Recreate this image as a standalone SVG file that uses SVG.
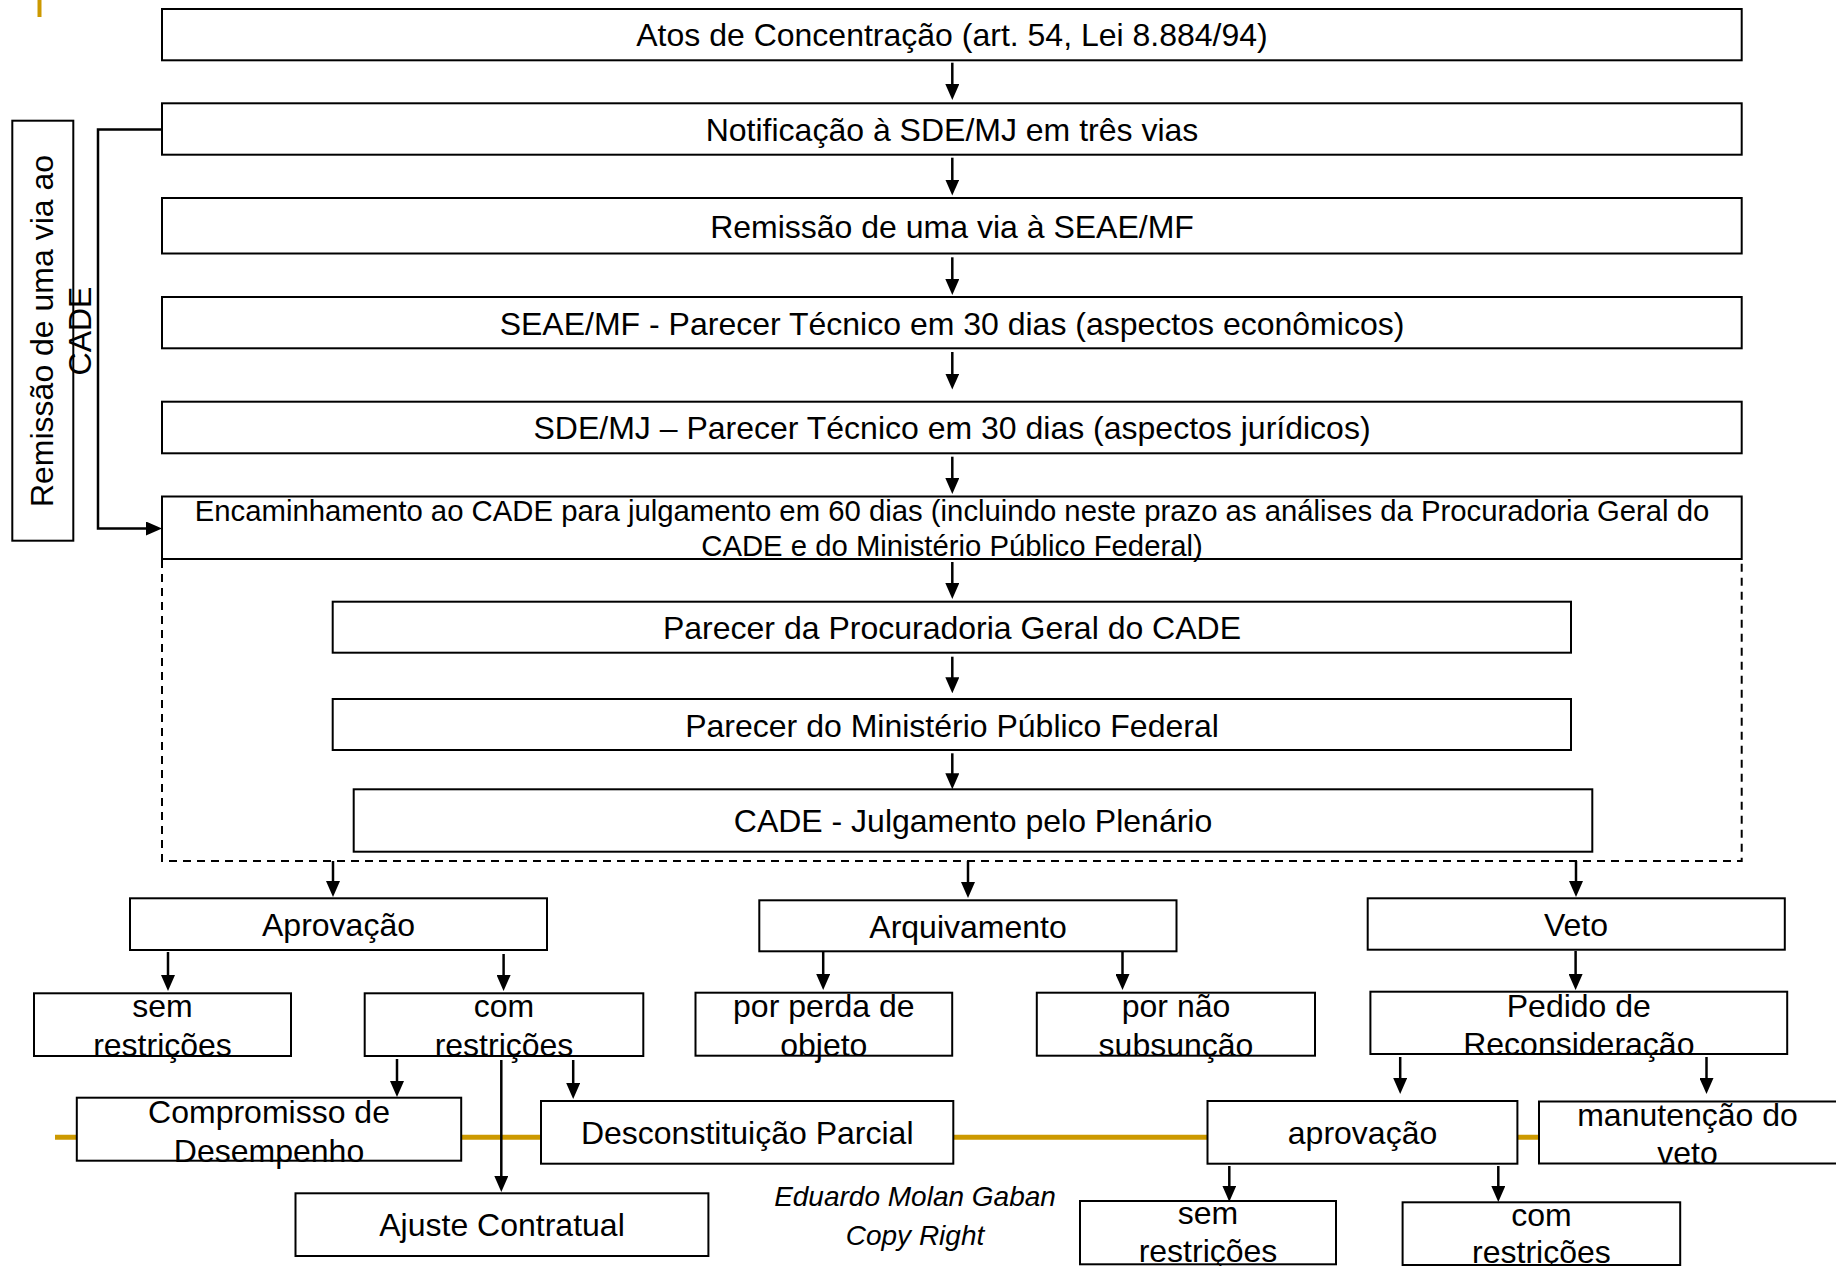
<svg xmlns="http://www.w3.org/2000/svg" width="1836" height="1266" viewBox="0 0 1836 1266">
<style>
.box{fill:#fff;stroke:#000;stroke-width:2}
.t{font-family:"Liberation Sans",Arial,Helvetica,sans-serif;font-size:32px;text-anchor:middle;fill:#000}
.s29{font-size:29.3px}
.it{font-style:italic;font-size:28px}
.c{stroke:#000;stroke-width:2.5;fill:none;marker-end:url(#arr)}
.dash{stroke:#000;stroke-width:2;stroke-dasharray:8 6;fill:none}
.gold{stroke:#CC9900;stroke-width:5;fill:none}
</style>
<defs>
<marker id="arr" viewBox="0 0 16 14" refX="6" refY="7" markerWidth="16" markerHeight="14" markerUnits="userSpaceOnUse" orient="auto">
<path d="M0,0 L16,7 L0,14 z" fill="#000"/>
</marker>
</defs>
<rect width="1836" height="1266" fill="#fff"/>
<g id="decor">
<line class="gold" x1="39.5" y1="0" x2="39.5" y2="17" style="stroke-width:4"/>
<line class="gold" x1="55" y1="1137.3" x2="1836" y2="1137.3"/>
</g>
<g id="group-cade">
<path class="dash" d="M162,560 V861 H1741.7 V560"/>
</g>
<g id="n-atos"><rect class="box" x="162" y="9" width="1579.7" height="51.3"/><text class="t" x="952" y="46">Atos de Concentração (art. 54, Lei 8.884/94)</text></g>
<g id="n-notif"><rect class="box" x="162" y="103.3" width="1579.7" height="51.4"/><text class="t" x="952" y="140.5">Notificação à SDE/MJ em três vias</text></g>
<g id="n-remissao"><rect class="box" x="162" y="198" width="1579.7" height="55.5"/><text class="t" x="952" y="237.5">Remissão de uma via à SEAE/MF</text></g>
<g id="n-seae"><rect class="box" x="162" y="297" width="1579.7" height="51.3"/><text class="t" x="952" y="334.5">SEAE/MF - Parecer Técnico em 30 dias (aspectos econômicos)</text></g>
<g id="n-sde"><rect class="box" x="162" y="401.7" width="1579.7" height="51.6"/><text class="t" x="952" y="439">SDE/MJ – Parecer Técnico em 30 dias (aspectos jurídicos)</text></g>
<g id="n-encaminhamento"><rect class="box" x="162" y="496.5" width="1579.7" height="62.5"/><text class="t s29" x="952" y="520.5">Encaminhamento ao CADE para julgamento em 60 dias (incluindo neste prazo as análises da Procuradoria Geral do</text><text class="t s29" x="952" y="556">CADE e do Ministério Público Federal)</text></g>
<g id="n-procuradoria"><rect class="box" x="332.7" y="601.7" width="1238.3" height="51"/><text class="t" x="952" y="639">Parecer da Procuradoria Geral do CADE</text></g>
<g id="n-mpf"><rect class="box" x="332.7" y="699" width="1238.3" height="51"/><text class="t" x="952" y="737">Parecer do Ministério Público Federal</text></g>
<g id="n-julgamento"><rect class="box" x="353.7" y="789.3" width="1238.6" height="62.4"/><text class="t" x="973" y="832">CADE - Julgamento pelo Plenário</text></g>
<g id="n-remissao-cade"><rect class="box" x="12.3" y="120.7" width="61" height="420"/><text class="t" transform="translate(53.3,331) rotate(-90)">Remissão de uma via ao</text><text class="t" transform="translate(91.3,331) rotate(-90)">CADE</text></g>
<g id="n-aprovacao"><rect class="box" x="130" y="898.3" width="417" height="51.7"/><text class="t" x="338.5" y="936">Aprovação</text></g>
<g id="n-arquivamento"><rect class="box" x="759.3" y="900.3" width="417.2" height="51"/><text class="t" x="968" y="937.5">Arquivamento</text></g>
<g id="n-veto"><rect class="box" x="1367.7" y="898.3" width="417.1" height="51.4"/><text class="t" x="1576" y="936">Veto</text></g>
<g id="n-sem1"><rect class="box" x="34" y="993.3" width="257" height="62.7"/><text class="t" x="162.5" y="1017">sem</text><text class="t" x="162.5" y="1056">restrições</text></g>
<g id="n-com1"><rect class="box" x="364.7" y="993.3" width="278.6" height="62.7"/><text class="t" x="504" y="1017">com</text><text class="t" x="504" y="1056">restrições</text></g>
<g id="n-perda"><rect class="box" x="695.5" y="992.7" width="256.7" height="63"/><text class="t" x="823.8" y="1017">por perda de</text><text class="t" x="823.8" y="1055.5">objeto</text></g>
<g id="n-nao"><rect class="box" x="1036.8" y="992.7" width="278.2" height="63"/><text class="t" x="1176" y="1017">por não</text><text class="t" x="1176" y="1055.5">subsunção</text></g>
<g id="n-pedido"><rect class="box" x="1370.4" y="991.7" width="416.8" height="62.3"/><text class="t" x="1578.8" y="1016.5">Pedido de</text><text class="t" x="1578.8" y="1054.5">Reconsideração</text></g>
<g id="n-compromisso"><rect class="box" x="76.8" y="1097.7" width="384.4" height="63"/><text class="t" x="269" y="1122.5">Compromisso de</text><text class="t" x="269" y="1161.5">Desempenho</text></g>
<g id="n-desconstituicao"><rect class="box" x="541" y="1101" width="412.3" height="62.7"/><text class="t" x="747.2" y="1144">Desconstituição Parcial</text></g>
<g id="n-aprovacao2"><rect class="box" x="1207.5" y="1101" width="309.9" height="62.7"/><text class="t" x="1362.5" y="1144">aprovação</text></g>
<g id="n-manutencao"><rect class="box" x="1539" y="1101.5" width="300" height="62"/><text class="t" x="1687.5" y="1126">manutenção do</text><text class="t" x="1687.5" y="1164">veto</text></g>
<g id="n-ajuste"><rect class="box" x="295.5" y="1193.3" width="412.9" height="62.7"/><text class="t" x="502" y="1236">Ajuste Contratual</text></g>
<g id="n-sem2"><rect class="box" x="1080" y="1201" width="256" height="63.3"/><text class="t" x="1208" y="1224">sem</text><text class="t" x="1208" y="1262">restrições</text></g>
<g id="n-com2"><rect class="box" x="1402.6" y="1202.3" width="277.6" height="62.7"/><text class="t" x="1541.4" y="1225.5">com</text><text class="t" x="1541.4" y="1263">restrições</text></g>
<g id="credit"><text class="t it" x="915" y="1206">Eduardo Molan Gaban</text><text class="t it" x="915" y="1245">Copy Right</text></g>
<g id="connectors">
<line class="c" x1="952.3" y1="62.7" x2="952.3" y2="90"/>
<line class="c" x1="952.3" y1="157.7" x2="952.3" y2="185.5"/>
<line class="c" x1="952.3" y1="257.3" x2="952.3" y2="285"/>
<line class="c" x1="952.3" y1="352" x2="952.3" y2="379.5"/>
<line class="c" x1="952.3" y1="456.7" x2="952.3" y2="484"/>
<line class="c" x1="952.3" y1="562" x2="952.3" y2="589"/>
<line class="c" x1="952.3" y1="656.7" x2="952.3" y2="683.3"/>
<line class="c" x1="952.3" y1="753.3" x2="952.3" y2="779.3"/>
<path class="c" d="M162,129.5 H98 V528.5 H152"/>
<line class="c" x1="333" y1="861" x2="333" y2="887"/>
<line class="c" x1="968" y1="861" x2="968" y2="888"/>
<line class="c" x1="1576" y1="861" x2="1576" y2="887"/>
<line class="c" x1="168" y1="952" x2="168" y2="981"/>
<line class="c" x1="503.6" y1="954" x2="503.6" y2="981"/>
<line class="c" x1="397" y1="1059" x2="397" y2="1087"/>
<line class="c" x1="501.3" y1="1060" x2="501.3" y2="1182"/>
<line class="c" x1="573.2" y1="1060" x2="573.2" y2="1089"/>
<line class="c" x1="823.2" y1="952" x2="823.2" y2="980"/>
<line class="c" x1="1122.5" y1="952" x2="1122.5" y2="980"/>
<line class="c" x1="1575.6" y1="951" x2="1575.6" y2="980"/>
<line class="c" x1="1400.2" y1="1057" x2="1400.2" y2="1084"/>
<line class="c" x1="1706.5" y1="1057" x2="1706.5" y2="1084"/>
<line class="c" x1="1229.3" y1="1166" x2="1229.3" y2="1191.7"/>
<line class="c" x1="1498.3" y1="1166" x2="1498.3" y2="1192"/>
</g>
</svg>
